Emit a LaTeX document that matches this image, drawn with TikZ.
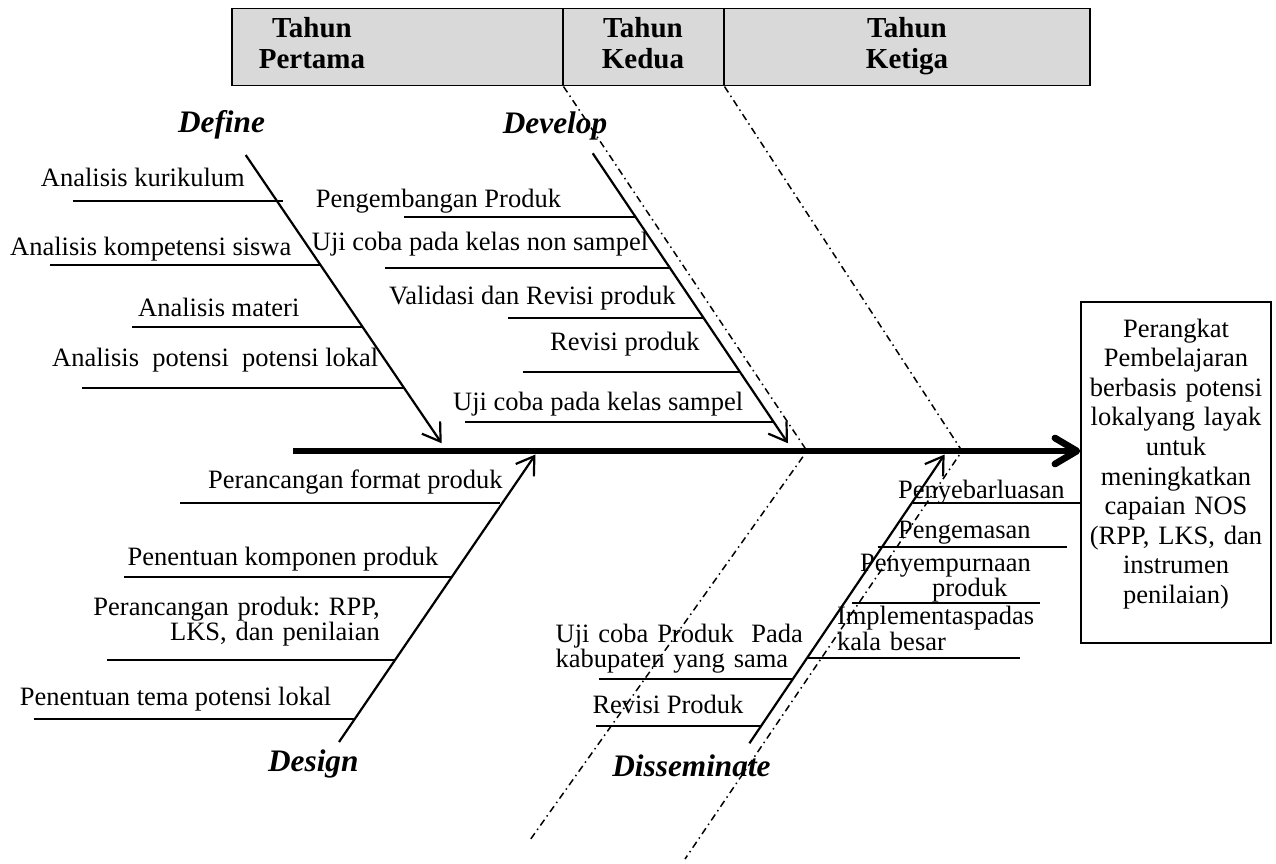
\documentclass[tikz,border=0pt]{standalone}
\usepackage{fontspec}
\setmainfont{Liberation Serif}
\frenchspacing
\usetikzlibrary{arrows.meta,calc}
\begin{document}
\begin{tikzpicture}[x=1pt,y=-1pt,
  txt/.style={inner sep=0pt, anchor=base west, font=\fontsize{26.5}{24.5}\selectfont},
  mtxt/.style={inner sep=0pt, anchor=north west, align=left, text width=#1},
  lbl/.style={inner sep=0pt, anchor=base, font=\fontsize{31.3}{31.3}\selectfont\bfseries\itshape},
  hdr/.style={inner sep=0pt, anchor=north, align=center, text width=150pt, font=\fontsize{29}{31}\selectfont\bfseries},
  cell/.style={draw=black, fill=black!15, line width=1.5pt, minimum height=77pt, inner sep=0pt, anchor=north west},
  bone/.style={line width=2.2pt, -{Straight Barb[length=17pt 0, width=22pt 0]}},
  twig/.style={line width=1.8pt},
  spine/.style={line width=6.7pt, -{Straight Barb[length=22pt 0,width=26pt 0,round]}},
  phase/.style={line width=1.5pt, dash pattern=on 7pt off 4pt on 1.5pt off 4pt},
]
\useasboundingbox (0,0) rectangle (1276,864);

% header
\node[cell, minimum width=331pt] (c1) at (231,8) {};
\node[cell, minimum width=161pt] (c2) at (562,8) {};
\node[cell, minimum width=366pt] (c3) at (723,8) {};
\node[hdr] (h1) at (312,17.2) {Tahun\\Pertama};
\node[hdr] (h2) at (643,17.2) {Tahun\\Kedua};
\node[hdr] (h3) at (907,17.2) {Tahun\\Ketiga};

% result box
\node[draw, line width=1.5pt, minimum width=190pt, minimum height=341pt, inner sep=0pt] (result) at (1176,472.5) {};
\node[inner sep=0pt, anchor=north, align=center, text width=190pt, font=\fontsize{26.5}{29.6}\selectfont] (resulttext) at (1176,318.6)
  {Perangkat\\Pembelajaran\\berbasis potensi\\lokalyang layak\\untuk\\meningkatkan\\capaian NOS\\(RPP, LKS, dan\\instrumen\\penilaian)};

% phase separators
\coordinate (p1m) at (807,451);
\coordinate (p1e) at (530,840);
\coordinate (p2m) at (962,451);
\coordinate (p2e) at (685,859);
\draw[phase] (c1.south east) -- (p1m) -- (p1e);
\draw[phase] (c2.south east) -- (p2m) -- (p2e);

% spine
\coordinate (spS) at (293,451);
\draw[spine] (spS) -- (spS -| result.west);

% Define
\node[lbl] (define) at (221.5,132) {Define};
\coordinate (defS) at (245.7,155);
\coordinate (defT) at (441.7,443.3);
\draw[bone] (defS) -- (defT);
\node[txt] (d1) at (40.7,186) {Analisis kurikulum};
\node[txt] (d2) at (10,255) {Analisis kompetensi siswa};
\node[txt] (d3) at (138,316.7) {Analisis materi};
\node[txt] (d4) at (52,366.7) {Analisis\ \ potensi\ \ potensi lokal};
\draw[twig] (72.7,200.7) -- (282.7,200.7);
\draw[twig] (50,265) -- (320.5,265);
\draw[twig] (132,326.7) -- (362.5,326.7);
\draw[twig] (82,388) -- (404,388);

% Develop
\node[lbl] (develop) at (555,133.3) {Develop};
\coordinate (devS) at (592.7,153.3);
\coordinate (devT) at (788,443.3);
\draw[bone] (devS) -- (devT);
\node[txt] (v1) at (315.7,207) {Pengembangan Produk};
\node[txt] (v2) at (311.7,250) {Uji coba pada kelas non sampel};
\node[txt] (v3) at (389,304) {Validasi dan Revisi produk};
\node[txt] (v4) at (550,350) {Revisi produk};
\node[txt] (v5) at (453,410) {Uji coba pada kelas sampel};
\draw[twig] (404,216.7) -- (635,216.7);
\draw[twig] (385,268) -- (669,268);
\draw[twig] (508,318) -- (703,318);
\draw[twig] (522.7,371.7) -- (739,371.7);
\draw[twig] (465,421.7) -- (773,421.7);

% Design
\node[lbl] (design) at (313.3,771.7) {Design};
\coordinate (desS) at (339,742);
\coordinate (desT) at (535.5,454.5);
\draw[bone] (desS) -- (desT);
\node[txt] (g1) at (208,488) {Perancangan format produk};
\node[txt] (g2) at (127.5,565) {Penentuan komponen produk};
\node[mtxt=300pt, anchor=north east, align=right, font=\fontsize{26.5}{25}\selectfont] (g3) at (380,596.9) {Perancangan produk: RPP,\\LKS, dan penilaian};
\node[txt] (g4) at (19.6,705.7) {Penentuan tema potensi lokal};
\draw[twig] (180,502.7) -- (500,502.7);
\draw[twig] (124,576.7) -- (451.5,576.7);
\draw[twig] (107,660) -- (395.5,660);
\draw[twig] (34,719.3) -- (355,719.3);

% Disseminate
\node[lbl] (dissem) at (691.5,776) {Disseminate};
\coordinate (disS) at (749.4,743.3);
\coordinate (disT) at (944.6,454.5);
\draw[bone] (disS) -- (disT);
\node[txt] (s1) at (898,498) {Penyebarluasan};
\node[txt] (s2) at (898,538) {Pengemasan};
\node[mtxt=220pt, font=\fontsize{26.5}{23.3}\selectfont] (s3) at (860,554.2) {Penyempurnaan\\\hspace*{72pt}produk};
\node[mtxt=220pt, font=\fontsize{26.5}{26}\selectfont] (s4) at (836.8,605.9) {Implementaspadas\\kala besar};
\node[mtxt=260pt, font=\fontsize{26.5}{23.3}\selectfont] (s5) at (555.5,623.6) {Uji coba Produk\ \ Pada\\kabupaten yang sama};
\node[txt] (s6) at (592.3,713.3) {Revisi Produk};
\draw[twig] (913,502.7) -- (913,502.7 -| result.west);
\draw[twig] (877.5,547.3) -- (1067,547.3);
\draw[twig] (851.6,603.3) -- (1040,603.3);
\draw[twig] (808,658.3) -- (1020.4,658.3);
\draw[twig] (599.2,679.3) -- (793,679.3);
\draw[twig] (596,725.7) -- (762,725.7);
\end{tikzpicture}
\end{document}
